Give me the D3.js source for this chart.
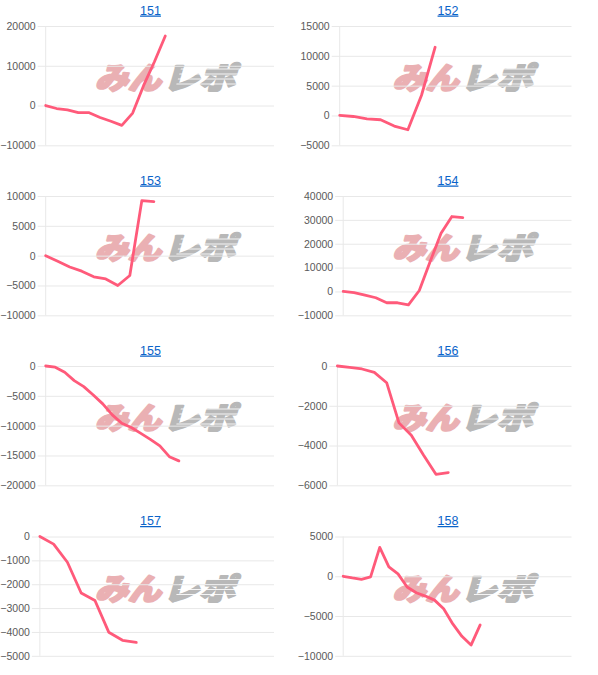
<!DOCTYPE html>
<html>
<head>
<meta charset="utf-8">
<script src="https://cdn.jsdelivr.net/npm/d3@7/dist/d3.min.js"></script>
<style>
  body { margin: 0; background: #fff; }
  svg { display: block; }
</style>
</head>
<body>
<div id="chart"></div>
<script>
// machine numbers shown above each small chart
const titles = ["151", "152", "153", "154", "155", "156", "157", "158"];

// number of slots on the (hidden) x axis of each chart
const slotCounts = [22, 18, 20, 22, 25, 20, 18, 26];

// difference in medals, one value per slot
const values151 = [0, -750, -1100, -1800, -1800, -3000, -3950, -5000, -1900, 5000, 11000, 17500];
const values152 = [0, -170, -560, -720, -1780, -2390, 3390, 11440];
const values153 = [0, -950, -1900, -2600, -3550, -3900, -5000, -3330, 9220, 9050];
const values154 = [0, -500, -1500, -2650, -4750, -4750, -5600, 400, 12500, 24400, 31400, 30900];
const values155 = [0, -200, -1050, -2450, -3450, -4850, -6350, -8200, -9600, -10300, -11300, -12300, -13400, -15200, -15900];
const values156 = [0, -70, -150, -320, -840, -2860, -3480, -4490, -5450, -5360];
const values157 = [0, -320, -1080, -2370, -2680, -4010, -4350, -4440];
const values158 = [0, -210, -380, -80, 3630, 1180, 300, -1350, -2070, -2490, -3000, -4090, -5990, -7550, -8650, -6120];

// y axis tick labels
const ticks151 = [-10000, 0, 10000, 20000];
const ticks152 = [-5000, 0, 5000, 10000, 15000];
const ticks153 = [-10000, -5000, 0, 5000, 10000];
const ticks154 = [-10000, 0, 10000, 20000, 30000, 40000];
const ticks155 = [-20000, -15000, -10000, -5000, 0];
const ticks156 = [-6000, -4000, -2000, 0];
const ticks157 = [-5000, -4000, -3000, -2000, -1000, 0];
const ticks158 = [-10000, -5000, 0, 5000];

const allValues = [values151, values152, values153, values154, values155, values156, values157, values158];
const allTicks = [ticks151, ticks152, ticks153, ticks154, ticks155, ticks156, ticks157, ticks158];

const W = 598, H = 675;
const colX = [0, 297.5];
const rowY = [0, 170, 340, 510.5];
const lineColor = "rgb(255, 90, 122)";
const gridColor = "#e8e8e8";

var svg = d3.select("#chart").append("svg")
  .attr("width", W)
  .attr("height", H);

titles.forEach(function(title, i) {
  const px = colX[i % 2], py = rowY[Math.floor(i / 2)];
  const ticks = allTicks[i], values = allValues[i];

  var g = svg.append("g").attr("transform", "translate(" + px + "," + py + ")");

  // title link
  g.append("text")
    .attr("x", 150.5)
    .attr("y", 14.5)
    .attr("text-anchor", "middle")
    .style("font-family", "'Liberation Sans', Arial, sans-serif")
    .style("font-size", "12.5px")
    .style("fill", "#0a63c9")
    .style("text-decoration", "underline")
    .text(title);

  // measure widest tick label to place the plot area
  var probe = g.append("g")
    .style("font-family", "'Liberation Sans', Arial, sans-serif")
    .style("font-size", "10.5px");
  var maxW = 0;
  ticks.forEach(function(t) {
    var tx = probe.append("text").text(t);
    maxW = Math.max(maxW, tx.node().getComputedTextLength());
  });
  probe.remove();

  const top = 26, bottom = 145.3;
  const left = 3 + maxW + 10, right = 274;

  var y = d3.scaleLinear()
    .domain(d3.extent(ticks))
    .range([bottom, top]);
  var x = d3.scaleLinear()
    .domain([0, slotCounts[i] - 1])
    .range([left, right]);

  // watermark logo (behind the line)
  var logo = g.append("g")
    .attr("transform", "translate(91,89) skewX(-16)")
    .style("font-family", "'Noto Sans CJK JP', sans-serif")
    .style("font-weight", "900")
    .style("font-size", "30px");
  logo.append("text")
    .attr("x", 4)
    .attr("y", 0)
    .attr("textLength", 66)
    .attr("lengthAdjust", "spacingAndGlyphs")
    .style("fill", "#eab0b3")
    .style("stroke", "#eab0b3")
    .style("stroke-width", 2.2)
    .style("stroke-linejoin", "round")
    .text("みん");
  logo.append("text")
    .attr("x", 72)
    .attr("y", 0)
    .attr("textLength", 72)
    .attr("lengthAdjust", "spacingAndGlyphs")
    .style("fill", "#b8b8b8")
    .style("stroke", "#b8b8b8")
    .style("stroke-width", 2.2)
    .style("stroke-linejoin", "round")
    .text("レポ");
  // streak cut-outs in the grey part
  [-20, -15, -10, -5].forEach(function(dy) {
    logo.append("line")
      .attr("x1", 84).attr("x2", 148)
      .attr("y1", dy).attr("y2", dy)
      .attr("stroke", "#fff")
      .attr("stroke-width", 1)
      .attr("opacity", 0.85);
  });

  // y axis with gridlines
  var axis = g.append("g")
    .attr("transform", "translate(" + left + ",0)")
    .call(d3.axisLeft(y)
      .tickValues(ticks)
      .tickSizeInner(-(right - left))
      .tickSizeOuter(0)
      .tickFormat(d3.format("d")));
  axis.select(".domain").remove();
  axis.selectAll(".tick line")
    .attr("x1", -8)
    .attr("stroke", gridColor);
  axis.selectAll(".tick text")
    .attr("x", -10)
    .style("font-family", "'Liberation Sans', Arial, sans-serif")
    .style("font-size", "10.5px")
    .style("fill", "#5a5a5a");

  g.append("line")
    .attr("x1", left).attr("x2", left)
    .attr("y1", top).attr("y2", bottom)
    .attr("stroke", gridColor);

  // data line
  var line = d3.line()
    .x(function(d, k) { return x(k); })
    .y(function(d) { return y(d); });
  g.append("path")
    .datum(values)
    .attr("d", line)
    .attr("fill", "none")
    .attr("stroke", lineColor)
    .attr("stroke-width", 2.8)
    .attr("stroke-linejoin", "round")
    .attr("stroke-linecap", "round");
});
</script>
</body>
</html>
